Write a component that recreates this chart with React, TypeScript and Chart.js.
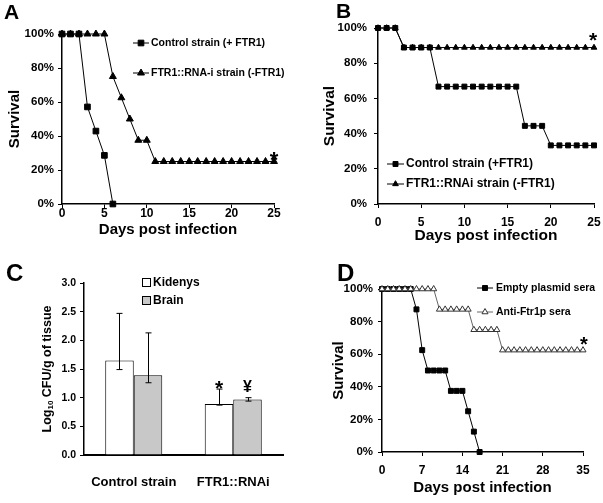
import React, { useEffect, useRef } from 'react';
import { Chart, registerables } from 'chart.js';

Chart.register(...registerables);

const FONT = "'Liberation Sans', Arial, Helvetica, sans-serif";
Chart.defaults.font.family = FONT;
Chart.defaults.color = '#000';

// ---------- Panel A ----------
const daysA = [0, 1, 2, 3, 4, 5, 6, 7, 8, 9, 10, 11, 12, 13, 14, 15, 16, 17, 18, 19, 20, 21, 22, 23, 24, 25];
const controlA = [100, 100, 100, 57.1, 42.9, 28.6, 0];
const rnaiA = [100, 100, 100, 100, 100, 100, 75, 62.5, 50, 37.5, 37.5, 25, 25, 25, 25, 25, 25, 25, 25, 25, 25, 25, 25, 25, 25, 25];
const legendA = ['Control strain (+ FTR1)', 'FTR1::RNA-i strain (-FTR1)'];

// ---------- Panel B ----------
const daysB = [0, 1, 2, 3, 4, 5, 6, 7, 8, 9, 10, 11, 12, 13, 14, 15, 16, 17, 18, 19, 20, 21, 22, 23, 24, 25];
const controlB = [100, 100, 100, 88.9, 88.9, 88.9, 88.9, 66.7, 66.7, 66.7, 66.7, 66.7, 66.7, 66.7, 66.7, 66.7, 66.7, 44.4, 44.4, 44.4, 33.3, 33.3, 33.3, 33.3, 33.3, 33.3];
const rnaiB = [100, 100, 100, 88.9, 88.9, 88.9, 88.9, 88.9, 88.9, 88.9, 88.9, 88.9, 88.9, 88.9, 88.9, 88.9, 88.9, 88.9, 88.9, 88.9, 88.9, 88.9, 88.9, 88.9, 88.9, 88.9];
const legendB = ['Control strain (+FTR1)', 'FTR1::RNAi strain (-FTR1)'];

// ---------- Panel C ----------
const categoriesC = ['Control strain', 'FTR1::RNAi'];
const kidneys = [1.65, 0.89];
const kidneysHi = [2.47, 1.15];
const kidneysLo = [1.49, 0.87];
const brain = [1.39, 0.97];
const brainHi = [2.13, 1.0];
const brainLo = [1.26, 0.94];
const legendC = ['Kidenys', 'Brain'];
const marksC = ['*', '¥'];

// ---------- Panel D ----------
const daysD = [0, 1, 2, 3, 4, 5, 6, 7, 8, 9, 10, 11, 12, 13, 14, 15, 16, 17, 18, 19, 20, 21, 22, 23, 24, 25, 26, 27, 28, 29, 30, 31, 32, 33, 34, 35];
const emptyD = [100, 100, 100, 100, 100, 100, 87.5, 62.5, 50, 50, 50, 50, 37.5, 37.5, 37.5, 25, 12.5, 0];
const antiD = [100, 100, 100, 100, 100, 100, 100, 100, 100, 100, 87.5, 87.5, 87.5, 87.5, 87.5, 87.5, 75, 75, 75, 75, 75, 62.5, 62.5, 62.5, 62.5, 62.5, 62.5, 62.5, 62.5, 62.5, 62.5, 62.5, 62.5, 62.5, 62.5, 62.5];
const legendD = ['Empty plasmid sera', 'Anti-Ftr1p sera'];

const bold = (size: number, lineHeight = 1.2) => ({ family: FONT, size, weight: 'bold' as const, lineHeight });

function drawMarker(ctx: CanvasRenderingContext2D, style: string, x: number, y: number, r: number, fill: string, stroke: string) {
  ctx.save();
  ctx.beginPath();
  if (style === 'rect') {
    const s = Math.SQRT1_2 * r;
    ctx.rect(x - s, y - s, 2 * s, 2 * s);
  } else {
    let rad = 0;
    ctx.moveTo(x + Math.sin(rad) * r, y - Math.cos(rad) * r);
    rad += (2 * Math.PI) / 3;
    ctx.lineTo(x + Math.sin(rad) * r, y - Math.cos(rad) * r);
    rad += (2 * Math.PI) / 3;
    ctx.lineTo(x + Math.sin(rad) * r, y - Math.cos(rad) * r);
    ctx.closePath();
  }
  ctx.fillStyle = fill;
  ctx.fill();
  ctx.strokeStyle = stroke;
  ctx.lineWidth = 1;
  ctx.stroke();
  ctx.restore();
}

type Series = { label: string; values: number[]; style: string; radius: number; fill: string; border: string; line: string; order: number };
type SurvCfg = {
  days: number[];
  series: Series[];
  xMax: number;
  xStep: number;
  w: number;
  h: number;
  area: { l: number; t: number; r: number; b: number };
  yTickFont: number;
  xTickFont: number;
  yTickPad: number;
  xTickPad: number;
  titleFont: number;
  xTitlePad: number;
  yTitlePad: number;
  legend: { x1: number; x2: number; tx: number; ys: number[]; font: number };
  panel: { text: string; x: number; y: number; size: number };
  star: { series: number; dx: number; dy: number; size: number };
};

function survivalChart(canvas: HTMLCanvasElement, c: SurvCfg) {
  const datasets = c.series.map((s) => ({
    label: s.label,
    data: s.values.map((v, i) => ({ x: c.days[i], y: v })),
    borderColor: s.line,
    borderWidth: 1,
    pointStyle: s.style,
    pointRadius: s.radius,
    pointHoverRadius: s.radius,
    pointBackgroundColor: s.fill,
    pointBorderColor: s.border,
    pointBorderWidth: 1,
    tension: 0,
    fill: false,
    clip: false as any,
    order: s.order,
  }));
  const decor = {
    id: 'decor',
    afterDraw(chart: any) {
      const ctx: CanvasRenderingContext2D = chart.ctx;
      ctx.save();
      // legend
      c.series.forEach((s, i) => {
        const y = c.legend.ys[i];
        ctx.beginPath();
        ctx.strokeStyle = s.line;
        ctx.lineWidth = 1;
        ctx.moveTo(c.legend.x1, y);
        ctx.lineTo(c.legend.x2, y);
        ctx.stroke();
        drawMarker(ctx, s.style, (c.legend.x1 + c.legend.x2) / 2, y, s.radius, s.fill, s.border);
        ctx.fillStyle = '#000';
        ctx.font = `bold ${c.legend.font}px ${FONT}`;
        ctx.textAlign = 'left';
        ctx.textBaseline = 'middle';
        ctx.fillText(s.label, c.legend.tx, y);
      });
      // panel label
      ctx.fillStyle = '#000';
      ctx.font = `bold ${c.panel.size}px ${FONT}`;
      ctx.textAlign = 'left';
      ctx.textBaseline = 'alphabetic';
      ctx.fillText(c.panel.text, c.panel.x, c.panel.y);
      // significance star at end of series
      const s = c.series[c.star.series];
      const lastI = s.values.length - 1;
      const px = chart.scales.x.getPixelForValue(c.days[lastI]) + c.star.dx;
      const py = chart.scales.y.getPixelForValue(s.values[lastI]) + c.star.dy;
      ctx.font = `bold ${c.star.size}px ${FONT}`;
      ctx.textAlign = 'center';
      ctx.fillText('*', px, py + 0.55 * c.star.size);
      ctx.restore();
    },
  };
  return new Chart(canvas, {
    type: 'line',
    data: { datasets: datasets as any },
    options: {
      animation: false,
      responsive: false,
      devicePixelRatio: 1,
      layout: { padding: { left: 0, top: c.area.t, right: c.w - c.area.r, bottom: 0 } },
      plugins: { legend: { display: false }, tooltip: { enabled: false } },
      scales: {
        x: {
          type: 'linear',
          min: 0,
          max: c.xMax,
          ticks: { stepSize: c.xStep, font: bold(c.xTickFont, 1), color: '#000', padding: c.xTickPad, maxRotation: 0 },
          grid: { display: true, drawOnChartArea: false, drawTicks: true, tickLength: 4, color: '#000', lineWidth: 1 },
          border: { display: true, color: '#000', width: 1.5 },
          title: { display: true, text: 'Days post infection', font: bold(c.titleFont), color: '#000', padding: { top: 0, bottom: c.xTitlePad } },
          afterFit: (s: any) => {
            s.height = c.h - c.area.b;
            s.paddingLeft = 0;
            s.paddingRight = 0;
          },
        },
        y: {
          type: 'linear',
          min: 0,
          max: 100,
          ticks: { stepSize: 20, callback: (v: any) => v + '%', font: bold(c.yTickFont, 1), color: '#000', padding: c.yTickPad },
          grid: { display: true, drawOnChartArea: false, drawTicks: true, tickLength: 4, color: '#000', lineWidth: 1 },
          border: { display: true, color: '#000', width: 1.5 },
          title: { display: true, text: 'Survival', font: bold(c.titleFont), color: '#000', padding: { top: c.yTitlePad, bottom: 0 } },
          afterFit: (s: any) => {
            s.width = c.area.l;
            s.paddingTop = 0;
            s.paddingBottom = 0;
          },
        },
      },
    } as any,
    plugins: [decor],
  });
}

function barChartC(canvas: HTMLCanvasElement) {
  const W = 300, H = 253;
  const area = { l: 84, t: 33, r: 283, b: 205 };
  const his = [kidneysHi, brainHi];
  const los = [kidneysLo, brainLo];
  const fills = ['#ffffff', '#c8c8c8'];
  const decor = {
    id: 'decorC',
    afterDatasetsDraw(chart: any) {
      const ctx: CanvasRenderingContext2D = chart.ctx;
      const ys = chart.scales.y;
      ctx.save();
      ctx.strokeStyle = '#000';
      ctx.lineWidth = 1;
      [0, 1].forEach((d) => {
        const meta = chart.getDatasetMeta(d);
        meta.data.forEach((bar: any, i: number) => {
          const x = Math.round(bar.x) + 0.5;
          const yh = ys.getPixelForValue(his[d][i]);
          const yl = ys.getPixelForValue(los[d][i]);
          ctx.beginPath();
          ctx.moveTo(x, yh);
          ctx.lineTo(x, yl);
          ctx.moveTo(x - 3, yh);
          ctx.lineTo(x + 3, yh);
          ctx.moveTo(x - 3, yl);
          ctx.lineTo(x + 3, yl);
          ctx.stroke();
        });
      });
      // significance marks on second group
      ctx.fillStyle = '#000';
      ctx.textAlign = 'center';
      ctx.textBaseline = 'alphabetic';
      const m0 = chart.getDatasetMeta(0).data[1];
      const m1 = chart.getDatasetMeta(1).data[1];
      ctx.font = `bold 21px ${FONT}`;
      ctx.fillText(marksC[0], m0.x, ys.getPixelForValue(his[0][1]) - 6 + 0.55 * 21);
      ctx.font = `bold 16px ${FONT}`;
      ctx.fillText(marksC[1], m1.x, ys.getPixelForValue(his[1][1]) - 6);
      ctx.restore();
    },
    afterDraw(chart: any) {
      const ctx: CanvasRenderingContext2D = chart.ctx;
      ctx.save();
      // legend
      legendC.forEach((t, i) => {
        const y = 33 + i * 18;
        ctx.fillStyle = fills[i];
        ctx.fillRect(142.5, y - 4.5, 8, 8);
        ctx.strokeStyle = '#000';
        ctx.lineWidth = 1;
        ctx.strokeRect(142.5, y - 4.5, 8, 8);
        ctx.fillStyle = '#000';
        ctx.font = `bold 12px ${FONT}`;
        ctx.textAlign = 'left';
        ctx.textBaseline = 'middle';
        ctx.fillText(t, 153, y);
      });
      // panel label
      ctx.font = `bold 24px ${FONT}`;
      ctx.textBaseline = 'alphabetic';
      ctx.fillText('C', 6, 31);
      // y axis title with subscript
      const f1 = `bold 12.5px ${FONT}`;
      const f2 = `bold 8px ${FONT}`;
      ctx.translate(48, (area.t + area.b) / 2);
      ctx.rotate(-Math.PI / 2);
      ctx.textBaseline = 'middle';
      ctx.font = f1;
      const w1 = ctx.measureText('Log').width;
      const w3 = ctx.measureText(' CFU/g of tissue').width;
      ctx.font = f2;
      const w2 = ctx.measureText('10').width;
      let x = -(w1 + w2 + w3) / 2;
      ctx.font = f1;
      ctx.fillText('Log', x, 0);
      x += w1;
      ctx.font = f2;
      ctx.fillText('10', x, 3);
      x += w2;
      ctx.font = f1;
      ctx.fillText(' CFU/g of tissue', x, 0);
      ctx.restore();
    },
  };
  return new Chart(canvas, {
    type: 'bar',
    data: {
      labels: categoriesC,
      datasets: [
        { label: legendC[0], data: kidneys, backgroundColor: fills[0], borderColor: '#000', borderWidth: 1, categoryPercentage: 0.573, barPercentage: 1 },
        { label: legendC[1], data: brain, backgroundColor: fills[1], borderColor: '#000', borderWidth: 1, categoryPercentage: 0.573, barPercentage: 1 },
      ],
    },
    options: {
      animation: false,
      responsive: false,
      devicePixelRatio: 1,
      layout: { padding: { left: 0, top: area.t, right: W - area.r, bottom: 0 } },
      plugins: { legend: { display: false }, tooltip: { enabled: false } },
      scales: {
        x: {
          ticks: { font: bold(13, 1), color: '#000', padding: 12.5 },
          grid: { display: false },
          border: { display: true, color: '#000', width: 2 },
          afterFit: (s: any) => {
            s.height = H - area.b;
            s.paddingLeft = 0;
            s.paddingRight = 0;
          },
        },
        y: {
          min: 0,
          max: 3,
          ticks: { stepSize: 0.5, callback: (v: any) => Number(v).toFixed(1), font: bold(10.5, 1), color: '#000', padding: 4 },
          grid: { display: true, drawOnChartArea: false, drawTicks: true, tickLength: 4, color: '#000', lineWidth: 1 },
          border: { display: true, color: '#000', width: 1.5 },
          afterFit: (s: any) => {
            s.width = area.l;
            s.paddingTop = 0;
            s.paddingBottom = 0;
          },
        },
      },
    } as any,
    plugins: [decor],
  });
}

export default function App() {
  const refA = useRef<HTMLCanvasElement>(null);
  const refB = useRef<HTMLCanvasElement>(null);
  const refC = useRef<HTMLCanvasElement>(null);
  const refD = useRef<HTMLCanvasElement>(null);

  useEffect(() => {
    const charts: Chart[] = [];
    charts.push(
      survivalChart(refA.current!, {
        days: daysA,
        series: [
          { label: legendA[0], values: controlA, style: 'rect', radius: 4, fill: '#000', border: '#000', line: '#000', order: 0 },
          { label: legendA[1], values: rnaiA, style: 'triangle', radius: 4, fill: '#000', border: '#000', line: '#000', order: 1 },
        ],
        xMax: 25,
        xStep: 5,
        w: 300,
        h: 250,
        area: { l: 62, t: 34, r: 274, b: 204 },
        yTickFont: 11.5,
        xTickFont: 12,
        yTickPad: 4,
        xTickPad: 0,
        titleFont: 15,
        xTitlePad: 11,
        yTitlePad: 6,
        legend: { x1: 133, x2: 149, tx: 151, ys: [43, 73], font: 10.5 },
        panel: { text: 'A', x: 4, y: 19, size: 21 },
        star: { series: 1, dx: 0, dy: -6.5, size: 22 },
      })
    );
    charts.push(
      survivalChart(refB.current!, {
        days: daysB,
        series: [
          { label: legendB[0], values: controlB, style: 'rect', radius: 3.5, fill: '#000', border: '#000', line: '#000', order: 0 },
          { label: legendB[1], values: rnaiB, style: 'triangle', radius: 3.3, fill: '#000', border: '#000', line: '#000', order: 1 },
        ],
        xMax: 25,
        xStep: 5,
        w: 303,
        h: 250,
        area: { l: 78, t: 28, r: 294, b: 204 },
        yTickFont: 11.5,
        xTickFont: 12,
        yTickPad: 7,
        xTickPad: 9,
        titleFont: 15.5,
        xTitlePad: 5,
        yTitlePad: 20,
        legend: { x1: 87, x2: 104, tx: 106, ys: [164, 184], font: 12 },
        panel: { text: 'B', x: 36, y: 18, size: 21 },
        star: { series: 1, dx: -1, dy: -12, size: 21 },
      })
    );
    charts.push(barChartC(refC.current!));
    charts.push(
      survivalChart(refD.current!, {
        days: daysD,
        series: [
          { label: legendD[0], values: emptyD, style: 'rect', radius: 3.5, fill: '#000', border: '#000', line: '#000', order: 1 },
          { label: legendD[1], values: antiD, style: 'triangle', radius: 3.5, fill: '#fff', border: '#333', line: '#666', order: 0 },
        ],
        xMax: 35,
        xStep: 7,
        w: 303,
        h: 253,
        area: { l: 82, t: 39, r: 283, b: 202 },
        yTickFont: 11.5,
        xTickFont: 12,
        yTickPad: 5,
        xTickPad: 9,
        titleFont: 15,
        xTitlePad: 6,
        yTitlePad: 30,
        legend: { x1: 177, x2: 193, tx: 196, ys: [38, 62], font: 10.5 },
        panel: { text: 'D', x: 37, y: 31, size: 24 },
        star: { series: 1, dx: 1, dy: -10, size: 20 },
      })
    );
    return () => charts.forEach((ch) => ch.destroy());
  }, []);

  const abs = (left: number, top: number): React.CSSProperties => ({ position: 'absolute', left, top });
  return (
    <div style={{ position: 'fixed', left: 0, top: 0, width: 603, height: 503, background: '#fff' }}>
      <canvas ref={refA} width={300} height={250} style={abs(0, 0)} />
      <canvas ref={refB} width={303} height={250} style={abs(300, 0)} />
      <canvas ref={refC} width={300} height={253} style={abs(0, 250)} />
      <canvas ref={refD} width={303} height={253} style={abs(300, 250)} />
    </div>
  );
}
